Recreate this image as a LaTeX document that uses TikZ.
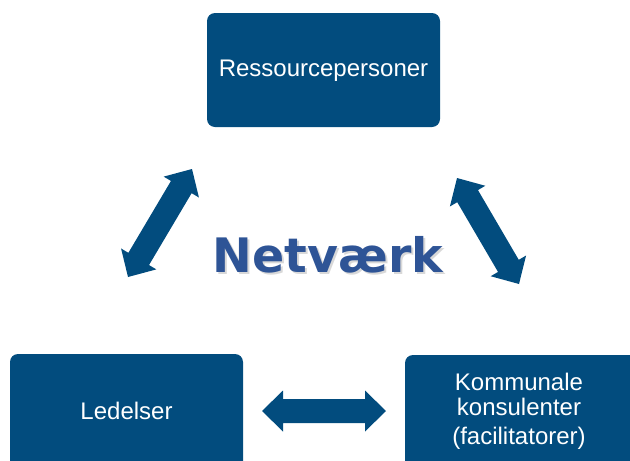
\documentclass[tikz,border=0pt]{standalone}
\usepackage{fontspec}
\setmainfont{Liberation Sans}
\newfontfamily\netfont{DejaVu Sans}
\usetikzlibrary{calc}
\definecolor{boxblue}{RGB}{2,76,126}
\definecolor{netblue}{RGB}{46,84,150}
\tikzset{
  box/.style={fill=boxblue, rounded corners=8pt},
  boxtext/.style={text=white, font=\fontsize{24}{25}\selectfont, align=center, inner sep=0pt},
  nettext/.style={anchor=base, inner sep=0pt, font=\netfont\bfseries\fontsize{47.5}{48}\selectfont},
}
\newcommand\mkdblarrow[2]{%
  \coordinate (#1h) at ($(#1)!21pt!(#2)$);
  \coordinate (#2h) at ($(#2)!21pt!(#1)$);
  \fill[boxblue] (#1) -- ($(#1h)!20.5pt!90:(#2)$) -- ($(#1h)!12pt!90:(#2)$)
    -- ($(#2h)!12pt!-90:(#1)$) -- ($(#2h)!20.5pt!-90:(#1)$) -- (#2)
    -- ($(#2h)!20.5pt!90:(#1)$) -- ($(#2h)!12pt!90:(#1)$)
    -- ($(#1h)!12pt!-90:(#2)$) -- ($(#1h)!20.5pt!-90:(#2)$) -- cycle;}
\begin{document}
\begin{tikzpicture}[x=1pt,y=-1pt]
\useasboundingbox (0,0) rectangle (630,461);
\clip (0,0) rectangle (630,461);
% boxes
\fill[box] (207,13) rectangle (440,127);
\node[boxtext] (res) at (323.5,71) {Ressourcepersoner};
\fill[box] (10,354) rectangle (243,480);
\node[boxtext] (led) at (126.5,411) {Ledelser};
\fill[box] (405,355) rectangle (638,480);
\node[boxtext] (kom1) at (519,382) {Kommunale};
\node[boxtext] (kom2) at (519,407) {konsulenter};
\node[boxtext] (kom3) at (519,438) {(facilitatorer)};
% arrows
\coordinate (lt) at (192,169);
\coordinate (lb) at (128,277);
\mkdblarrow{lb}{lt}
\coordinate (rt) at (457,178);
\coordinate (rb) at (519,284);
\mkdblarrow{rt}{rb}
\coordinate (hl) at (262,411);
\coordinate (hr) at (386,411);
\mkdblarrow{hl}{hr}
% title with soft shadow
\node[nettext, text=black!30, opacity=0.5] (netsh) at (330,274) {Netværk};
\node[nettext, text=netblue] (net) at (328,272) {Netværk};
\end{tikzpicture}
\end{document}
